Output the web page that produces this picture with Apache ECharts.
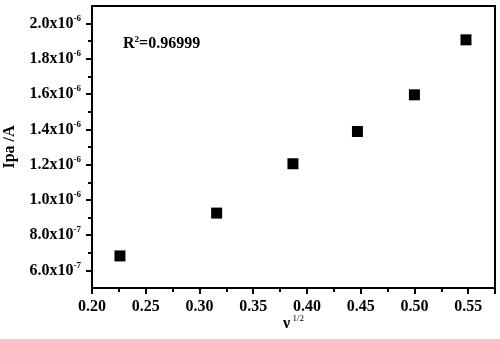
<!DOCTYPE html>
<html>
<head>
<meta charset="utf-8">
<script src="https://cdn.jsdelivr.net/npm/echarts@6/dist/echarts.min.js"></script>
<style>
    html, body { margin: 0; padding: 0; background: #fff; }
    #chart { width: 500px; height: 339px; }
</style>
</head>
<body>
<div id="chart"></div>
<script>
// sqrt of scan rate vs anodic peak current
var xValues = [0.226, 0.316, 0.387, 0.447, 0.500, 0.548];
var yValues = [6.82e-7, 9.25e-7, 1.205e-6, 1.388e-6, 1.596e-6, 1.908e-6];
var yMajorTicks = [6e-7, 8e-7, 1.0e-6, 1.2e-6, 1.4e-6, 1.6e-6, 1.8e-6, 2.0e-6];
var yMinorTicks = [7e-7, 9e-7, 1.1e-6, 1.3e-6, 1.5e-6, 1.7e-6, 1.9e-6];
var rSquared = '0.96999';

var serif = '"Liberation Serif", "Times New Roman", serif';

function sciLabel(v) {
    var exp = Math.floor(Math.log10(v) + 1e-9);
    var mant = (v / Math.pow(10, exp)).toFixed(1);
    return '{b|' + mant + 'x10}{s|' + exp + '}';
}

var chart = echarts.init(document.getElementById('chart'));
var option = {
    backgroundColor: '#fff',
    animation: false,
    title: {
        text: '{b|R}{s|2}{b|=' + rSquared + '}',
        left: 118,
        top: 30,
        textStyle: {
            rich: {
                b: { fontFamily: serif, fontWeight: 'bold', fontSize: 16, color: '#000' },
                s: { fontFamily: serif, fontWeight: 'bold', fontSize: 9, color: '#000', padding: [0, 0, 9, 0] }
            }
        }
    },
    grid: {
        left: 92, top: 6, right: 5, bottom: 51,
        outerBoundsMode: 'none',
        show: true, borderColor: '#000', borderWidth: 2
    },
    xAxis: {
        type: 'value',
        min: 0.2,
        max: 0.575,
        interval: 0.05,
        name: '{b|ν}{s| 1/2}',
        nameLocation: 'middle',
        nameGap: 26,
        nameMoveOverlap: false,
        nameTextStyle: {
            rich: {
                b: { fontFamily: serif, fontWeight: 'bold', fontSize: 16, color: '#000' },
                s: { fontFamily: serif, fontSize: 9, color: '#000', padding: [0, 0, 11, 0] }
            }
        },
        axisLine: { show: true, onZero: false, lineStyle: { color: '#000', width: 2 } },
        axisTick: { show: true, length: 6, lineStyle: { color: '#000', width: 2 } },
        minorTick: { show: true, splitNumber: 2, length: 4, lineStyle: { color: '#000', width: 2 } },
        splitLine: { show: false },
        axisLabel: {
            margin: 11,
            fontFamily: serif, fontWeight: 'bold', fontSize: 16, color: '#000',
            formatter: function (v) { return v.toFixed(2); },
            showMaxLabel: false
        }
    },
    yAxis: [{
        type: 'value',
        min: 5e-7,
        max: 2.1e-6,
        name: 'Ipa /A',
        nameLocation: 'middle',
        nameRotate: 90,
        nameGap: 74,
        nameMoveOverlap: false,
        nameTextStyle: { fontFamily: serif, fontWeight: 'bold', fontSize: 16, color: '#000' },
        axisLine: { show: true, onZero: false, lineStyle: { color: '#000', width: 2 } },
        axisTick: { show: true, length: 6, customValues: yMajorTicks, lineStyle: { color: '#000', width: 2 } },
        splitLine: { show: false },
        axisLabel: {
            margin: 11,
            customValues: yMajorTicks,
            formatter: sciLabel,
            rich: {
                b: { fontFamily: serif, fontWeight: 'bold', fontSize: 16, color: '#000' },
                s: { fontFamily: serif, fontWeight: 'bold', fontSize: 9, color: '#000', padding: [0, 0, 10, 0] }
            }
        }
    }, {
        type: 'value',
        position: 'left',
        min: 5e-7,
        max: 2.1e-6,
        axisLine: { show: false },
        axisTick: { show: true, length: 4, customValues: yMinorTicks, lineStyle: { color: '#000', width: 2 } },
        axisLabel: { show: false },
        splitLine: { show: false }
    }],
    series: [{
        type: 'scatter',
        symbol: 'rect',
        symbolSize: 11,
        itemStyle: { color: '#000', opacity: 1 },
        data: xValues.map(function (x, i) { return [x, yValues[i]]; })
    }]
};
chart.setOption(option);
window.addEventListener('resize', chart.resize);
</script>
</body>
</html>
